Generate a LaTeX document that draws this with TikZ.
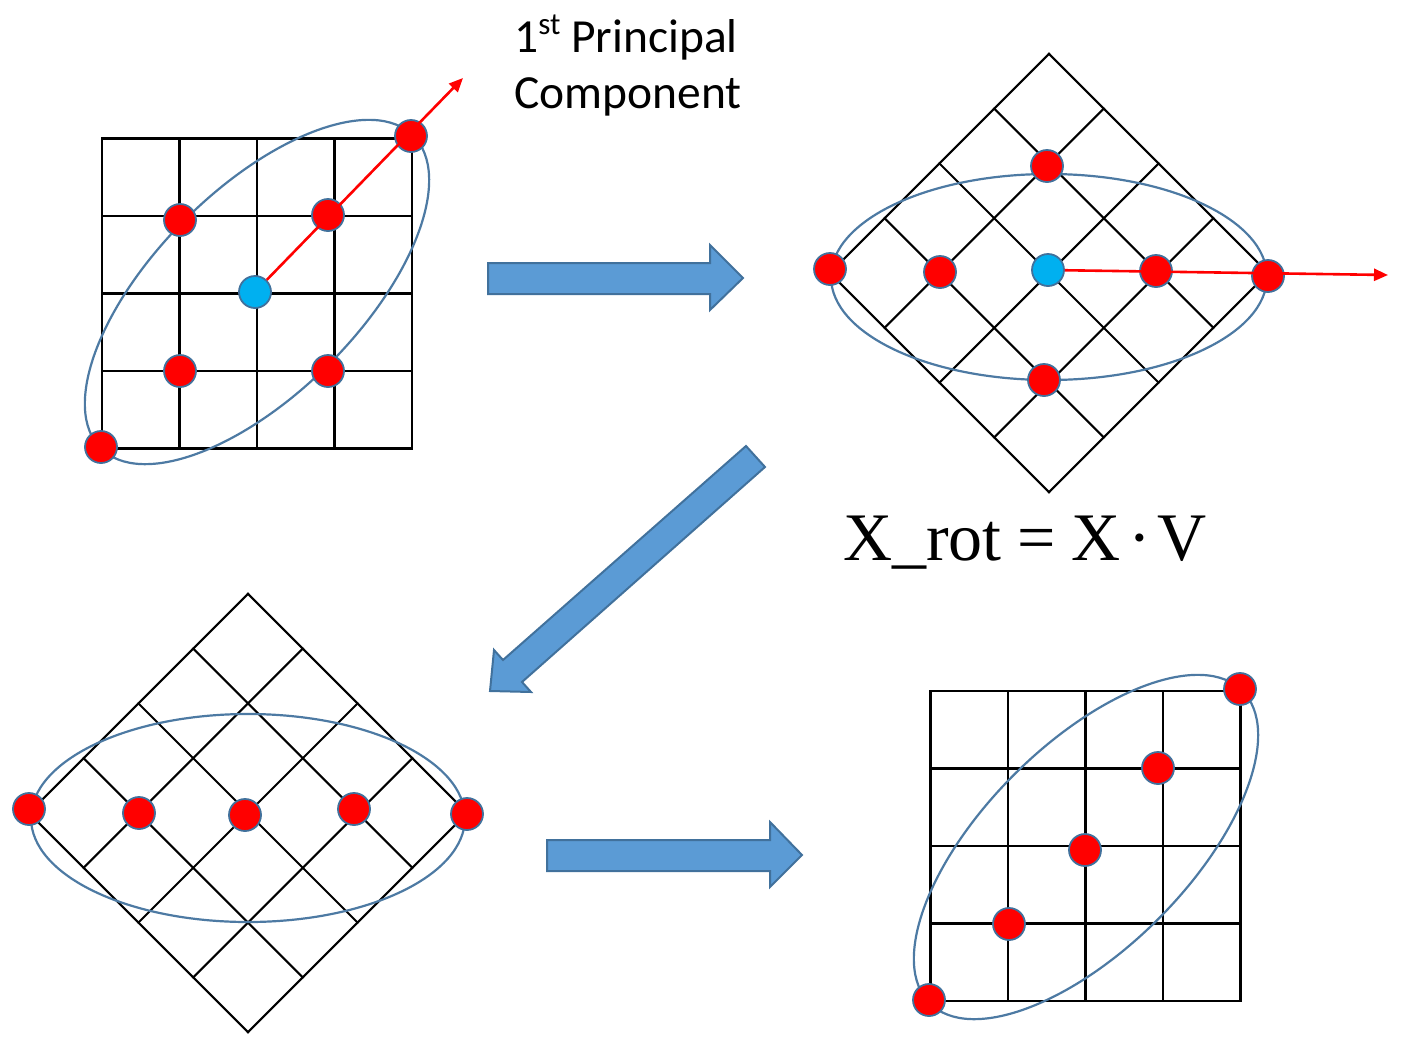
\documentclass[tikz,border=0pt]{standalone}
\usepackage{fontspec}
\newfontfamily\calib{Carlito}
\newfontfamily\timesf{Liberation Serif}
\usetikzlibrary{arrows.meta}
\definecolor{blockfill}{HTML}{5B9BD5}
\definecolor{blockdraw}{HTML}{41719C}
\definecolor{ellcol}{HTML}{4D7AA3}
\definecolor{dotborder}{HTML}{41719C}
\definecolor{cyandot}{HTML}{00B0F0}
\newcommand\sqgrid[1]{%
  \foreach \k in {-2,...,2}{%
    \draw[#1] (\k*77.5,-155) -- (\k*77.5,155);
    \draw[#1] (-155,\k*77.5) -- (155,\k*77.5);
  }}
\begin{document}
\begin{tikzpicture}[x=1pt,y=-1pt,
  gridsq/.style={line width=2.6pt,black,line cap=rect},
  griddia/.style={line width=2.1pt,black,line cap=rect},
  ell/.style={draw=ellcol,line width=2.2pt},
  rdot/.style={circle,fill=red,draw=dotborder,line width=1.8pt,minimum size=32pt,inner sep=0pt},
  bdot/.style={rdot,fill=cyandot},
  pcarrow/.style={draw=red,line width=2.6pt,-{Triangle[length=14pt,width=12pt]}},
  block/.style={fill=blockfill,draw=blockdraw,line width=2pt,line join=miter},
  txt/.style={anchor=base west,inner sep=0pt}]
\useasboundingbox (0,0) rectangle (1409,1037);

% ---------- panel 1 (top left) ----------
\begin{scope}[shift={(257,293.5)}]
  \sqgrid{gridsq}
\end{scope}
\draw[ell,rotate around={45:(257,292)}] (257,292) ellipse [x radius=221pt,y radius=102pt];
\node[rdot] (a1) at (180,220) {};
\node[rdot] (a2) at (328,215) {};
\node[rdot] (a3) at (180,371) {};
\node[rdot] (a4) at (328,371) {};
\node[rdot] (a5) at (411,136) {};
\node[rdot] (a6) at (101,447) {};
\node[bdot] (ab) at (255,292) {};
\coordinate (at) at (463,78);
\draw[pcarrow] (ab) -- (at);

\node[txt,font=\calib\fontsize{47.5}{56}\selectfont] (pc1) at (514,52)
  {1\raisebox{0.36em}{\fontsize{31}{31}\selectfont st} Principal};
\node[txt,font=\calib\fontsize{47.5}{56}\selectfont] (pc2) at (514,108) {Component};

% ---------- panel 2 (top right) ----------
\begin{scope}[shift={(1049,273)},rotate=45]
  \sqgrid{griddia}
\end{scope}
\draw[ell] (1049,277) ellipse [x radius=218pt,y radius=103pt];
\node[rdot] (b1) at (1047,166) {};
\node[rdot] (b2) at (1044,380) {};
\node[rdot] (b3) at (940,272) {};
\node[rdot] (b4) at (1156,271) {};
\node[rdot] (b5) at (830,269) {};
\node[rdot] (b6) at (1268,276) {};
\node[bdot] (bb) at (1048,270) {};
\coordinate (bt) at (1388,275);
\draw[pcarrow] (bb) -- (bt);

\node[txt,font=\timesf\fontsize{68}{80}\selectfont] (eq) at (843,560)
  {X\_rot\hspace{16pt}=\hspace{15pt}X\hspace{8pt}·\hspace{7pt}V};

% ---------- panel 3 (bottom left) ----------
\begin{scope}[shift={(248,813)},rotate=45]
  \sqgrid{griddia}
\end{scope}
\draw[ell] (248,818) ellipse [x radius=217pt,y radius=104pt];
\node[rdot] (c1) at (29,809) {};
\node[rdot] (c2) at (139,813) {};
\node[rdot] (c3) at (245,815) {};
\node[rdot] (c4) at (354,809) {};
\node[rdot] (c5) at (467,814) {};

% ---------- panel 4 (bottom right) ----------
\begin{scope}[shift={(1085.5,846)}]
  \sqgrid{gridsq}
\end{scope}
\draw[ell,rotate around={45:(1086,847)}] (1086,847) ellipse [x radius=221pt,y radius=102pt];
\node[rdot] (d1) at (1240,689) {};
\node[rdot] (d2) at (1158,768) {};
\node[rdot] (d3) at (1085,850) {};
\node[rdot] (d4) at (1009,924) {};
\node[rdot] (d5) at (929,1000) {};

% ---------- block arrows ----------
\draw[block] (488,263) -- (710,263) -- (710,245) -- (743,278) -- (710,310) -- (710,294) -- (488,294) -- cycle;
\draw[block] (746,446) -- (765,467) -- (522,682) -- (531,692) -- (490,691) -- (494,650) -- (503,660) -- cycle;
\draw[block] (547,840) -- (770,840) -- (770,822) -- (802,855) -- (770,887) -- (770,871) -- (547,871) -- cycle;
\end{tikzpicture}
\end{document}
